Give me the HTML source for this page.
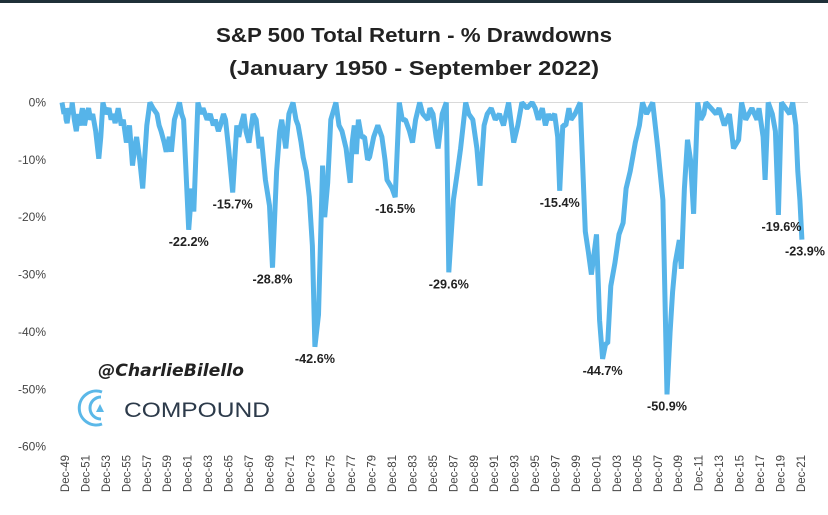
<!DOCTYPE html>
<html><head><meta charset="utf-8"><style>
html,body{margin:0;padding:0;background:#fff;}
body{width:828px;height:515px;overflow:hidden;position:relative;font-family:"Liberation Sans",sans-serif;}
</style></head><body>
<div style="position:absolute;left:0;top:0;width:828px;height:3px;background:#1f3038"></div>
<svg id="chart" width="828" height="515" style="position:absolute;left:0;top:0">
<text x="414" y="42" text-anchor="middle" font-size="20" font-weight="bold" fill="#222" textLength="396" lengthAdjust="spacingAndGlyphs">S&amp;P 500 Total Return - % Drawdowns</text>
<text x="414" y="75" text-anchor="middle" font-size="20" font-weight="bold" fill="#222" textLength="370" lengthAdjust="spacingAndGlyphs">(January 1950 - September 2022)</text>
<g id="axes"></g>
<g id="series"></g>
<g id="labels"></g>
<text x="98" y="376" font-size="17" font-style="italic" font-weight="bold" fill="#222" font-family="'DejaVu Sans',sans-serif" textLength="146" lengthAdjust="spacingAndGlyphs">@CharlieBilello</text>
<g>
<path d="M102 392 A17 17 0 1 0 102 424" fill="none" stroke="#5bb8e8" stroke-width="3"/>
<path d="M101 397 A11 11 0 1 0 101 419" fill="none" stroke="#5bb8e8" stroke-width="3"/>
<polygon points="96,412 100,404 104,412" fill="#5bb8e8"/>
<text x="124" y="417" font-size="21" fill="#2c3a4a" textLength="146" lengthAdjust="spacingAndGlyphs">COMPOUND</text>
</g>
</svg>
<script>
const yTicks = [0,-10,-20,-30,-40,-50,-60];
const yTickLabels = ["0%","-10%","-20%","-30%","-40%","-50%","-60%"];
const xTickYears = [1949,1951,1953,1955,1957,1959,1961,1963,1965,1967,1969,1971,1973,1975,1977,1979,1981,1983,1985,1987,1989,1991,1993,1995,1997,1999,2001,2003,2005,2007,2009,2011,2013,2015,2017,2019,2021];
const dates = [1950.0,1950.2,1950.3,1950.4,1950.5,1950.7,1950.9,1951.0,1951.2,1951.4,1951.6,1951.7,1951.9,1952.0,1952.2,1952.4,1952.6,1952.8,1953.0,1953.3,1953.6,1953.8,1954.0,1954.3,1954.6,1954.8,1955.0,1955.2,1955.5,1955.8,1956.0,1956.3,1956.6,1956.9,1957.1,1957.3,1957.6,1957.9,1958.3,1958.6,1958.9,1959.3,1959.5,1959.7,1960.0,1960.2,1960.5,1960.7,1961.0,1961.5,1961.7,1961.9,1962.4,1962.7,1962.9,1963.3,1963.6,1963.8,1964.2,1964.5,1964.8,1965.0,1965.3,1965.5,1965.8,1966.0,1966.3,1966.7,1967.1,1967.3,1967.5,1967.8,1968.0,1968.3,1968.7,1969.0,1969.3,1969.5,1969.9,1970.3,1970.6,1971.0,1971.3,1971.5,1971.9,1972.2,1972.6,1972.9,1973.1,1973.4,1973.6,1973.9,1974.2,1974.5,1974.75,1975.1,1975.5,1975.7,1976.0,1976.3,1976.8,1977.1,1977.4,1977.8,1978.2,1978.4,1978.6,1978.8,1979.0,1979.3,1979.6,1979.9,1980.1,1980.5,1980.9,1981.3,1981.6,1981.8,1982.3,1982.6,1983.0,1983.3,1983.6,1984.0,1984.3,1984.6,1985.0,1985.3,1985.8,1986.0,1986.3,1986.6,1986.8,1987.2,1987.6,1987.85,1988.3,1988.7,1989.0,1989.5,1989.8,1990.2,1990.6,1990.9,1991.3,1991.6,1992.0,1992.4,1992.8,1993.2,1993.7,1994.2,1994.6,1995.0,1995.5,1996.0,1996.3,1996.6,1997.0,1997.3,1997.6,1997.8,1998.2,1998.5,1998.7,1999.0,1999.3,1999.6,1999.8,2000.2,2000.7,2001.2,2001.5,2001.8,2002.3,2002.6,2002.9,2003.2,2003.4,2003.7,2004.1,2004.5,2004.9,2005.2,2005.6,2006.1,2006.5,2006.8,2007.2,2007.5,2007.8,2008.3,2008.8,2009.2,2009.5,2009.75,2010.0,2010.4,2010.6,2010.9,2011.2,2011.5,2011.8,2012.2,2012.5,2012.8,2013.0,2013.5,2014.0,2014.3,2014.8,2015.3,2015.7,2016.2,2016.5,2016.9,2017.5,2018.0,2018.2,2018.6,2018.8,2019.1,2019.5,2019.8,2020.1,2020.4,2020.8,2021.2,2021.5,2021.8,2022.0,2022.2,2022.4,2022.5,2022.7];
const values = [0,-2,-1,-3,-3.6,-1,-2,0,-3,-5,-2,-4,-2,-1,-4,-2,-1,-3,-2,-5,-9.8,-6,0,-2,-1,-3,-2,-3.6,-1,-4,-3,-7,-4,-11,-8,-6,-10,-15,-4,0,-1,-2,-4,-5,-7,-8.6,-6,-8.6,-3,0,-2,-3,-22.2,-15,-19,0,-2,-1,-3,-2,-4,-3,-5,-4,-2,-3,-8,-15.7,-4,-6,-4,-2,-5,-7,-2,-3,-8,-6,-13.5,-18,-28.8,-12,-5,-3,-8,-2,0,-3,-4,-7,-9.6,-12,-16.5,-25,-42.6,-37,-11,-20,-14,-3,0,-4,-5,-8,-14,-7,-4,-9,-3,-6,-6,-10,-9.5,-6,-4,-6,-10,-13.5,-15,-16.5,0,-3,-3,-5,-7,-3,0,-2,-3,-1,-2,-6,-8,-2,0,-29.6,-17,-12,-8,0,-2,-3,-8,-14.5,-4,-2,-1,-3,-2,-4,0,-7,-4,0,-1,0,-1,-3,-1,-4,-2,-3,-2,-6,-15.4,-4,-4,-1,-3,-2,0,-22.5,-26,-30,-23,-38,-44.7,-42,-42,-32,-28,-23,-21,-15,-12,-7,-4,0,-2,-1,0,-8,-17,-50.9,-40,-33,-28,-24,-29,-15,-6.5,-10,-19.4,0,-3,-2,0,-1,-2,-1,-4,-2,-8,-6.5,0,-3,-1,-3,-1,-6,-13.5,0,-2,-5,-19.6,0,-1,-2,0,-4,-12,-17,-23.9];
const annDates = [1962.4,1966.7,1970.6,1974.75,1982.6,1987.85,1998.7,2002.9,2009.2,2020.4,2022.7];
const annValues = [-22.2,-15.7,-28.8,-42.6,-16.5,-29.6,-15.4,-44.7,-50.9,-19.6,-23.9];
const annLabels = ["-22.2%","-15.7%","-28.8%","-42.6%","-16.5%","-29.6%","-15.4%","-44.7%","-50.9%","-19.6%","-23.9%"];

const NS="http://www.w3.org/2000/svg";
function X(yr){return 62+(yr-1950)*10.22;}
function Y(v){return 102.5-v*5.735;}
function mk(tag,attrs,parent){const e=document.createElementNS(NS,tag);for(const k in attrs)e.setAttribute(k,attrs[k]);parent.appendChild(e);return e;}
const axes=document.getElementById('axes');
const zl=mk('line',{x1:62,x2:808,y1:Y(0),y2:Y(0),stroke:'#d9d9d9','stroke-width':1},axes);


yTicks.forEach((v,i)=>{
  const t=mk('text',{x:46,y:Y(v)+4,'text-anchor':'end','font-size':12,fill:'#444'},axes);
  
  
  t.textContent=yTickLabels[i];
});
xTickYears.forEach(yr=>{
  const x=X(yr+1)+3;
  const t=mk('text',{x:0,y:0,'text-anchor':'end','font-size':11.5,fill:'#444',transform:`translate(${x+4},455) rotate(-90)`},axes);
  
  
  t.textContent='Dec-'+String(yr).slice(2);
});
const pts=dates.map((d,i)=>X(d).toFixed(1)+','+Y(values[i]).toFixed(1)).join(' ');
const line=mk('polyline',{points:pts,fill:'none',stroke:'#56b4e9','stroke-width':5,'stroke-linejoin':'bevel'},document.getElementById('series'));


const lab=document.getElementById('labels');
annDates.forEach((d,i)=>{
  const t=mk('text',{x:X(d),y:Y(annValues[i])+16,'text-anchor':'middle','font-size':12.5,'font-weight':'bold',fill:'#222',textLength:40,lengthAdjust:'spacingAndGlyphs'},lab);
  
  
  t.textContent=annLabels[i];
});
</script>
</body></html>
